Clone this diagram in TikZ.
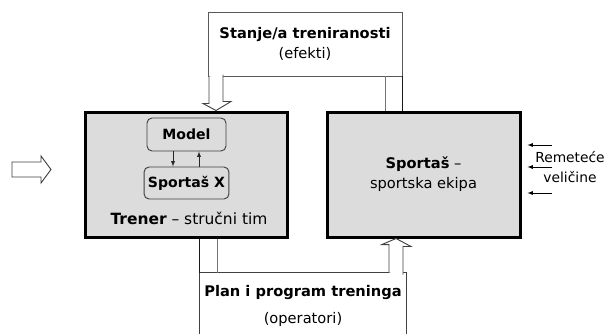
\documentclass[tikz,border=0pt]{standalone}
\usepackage{fontspec}
\setmainfont{DejaVu Sans}
\usepackage{tikz}
\usetikzlibrary{arrows}

\definecolor{sivo}{RGB}{220,220,220}

\begin{document}
\begin{tikzpicture}[x=0.3mm,y=-0.3mm,line width=0.8pt,
		every node/.style={font=\fontsize{12.5}{17}\selectfont},
		okvir/.style={rectangle,draw=black!65,fill=white,align=center},
		blok/.style={rectangle,draw=black,line width=0.9mm,fill=sivo,align=center,minimum height=37.5mm},
		mali/.style={rectangle,rounded corners=1.5mm,draw=black!75,fill=sivo,minimum width=23.7mm,font=\fontsize{12}{14}\selectfont\bfseries},
		strelica/.style={draw=black!75,fill=white,line join=miter}]
	\useasboundingbox (0,0) rectangle (607,334);
	\node (stanje)    at (  305,   44) [okvir,minimum width=58.2mm,minimum height=19.2mm] {\textbf{Stanje/a treniranosti}\\(efekti)};
	\node (trener)    at (186.5,174.5) [blok,minimum width=60.3mm] {};
	\node (sportas)   at (423.5,174.5) [blok,minimum width=57.9mm] {\textbf{Sportaš} --\\sportska ekipa};
	\node (model)     at (186.5,134.5) [mali,minimum height=9.9mm] {Model};
	\node (sportasx)  at (186.5,  183) [mali,minimum height=9.6mm] {Sportaš X};
	\node (trenertxt) at (  189,  218) [font=\fontsize{13.2}{17}\selectfont] {\textbf{Trener} -- stručni tim};
	\node (plan)      at (  303,  306) [align=center,minimum width=61.2mm,minimum height=19.8mm] {\textbf{Plan i program treninga}\\[6.8pt](operatori)};
	\node (remet)     at (  570,  167) [align=center,font=\fontsize{11.8}{17}\selectfont] {Remeteće\\veličine};
	\coordinate (ulaz) at ( 12,169.5);
	\coordinate (g1)   at (216,0);
	\coordinate (g2)   at (385,0);
	\coordinate (g3)   at (217,0);
	\coordinate (d1)   at (396,0);
	\draw [black!75] (plan.south west) |- (plan.north east) -- (plan.south east);
	\draw [black!55] (g2 |- sportas.north) -- (g2 |- stanje.south)
	                 (g3 |- trener.south) -- (g3 |- plan.north);
	\draw [black!90] (sportas.north -| stanje.east) -- (stanje.south east)
	                 (trener.south -| plan.west) -- (plan.north west);
	\draw [strelica] (g1 |- stanje.south) ++(-7,0) -- ++(0,27) -- ++(-6,0) -- (g1 |- trener.north)
	                 -- ++(15,-9) -- ++(-8,0) -- ++(0,-27);
	\draw [strelica] (d1 |- plan.north) ++(-7,0) -- ++(0,-28) -- ++(-7,0) -- (d1 |- sportas.south)
	                 -- ++(15,8) -- ++(-8,0) -- ++(0,28);
	\draw [strelica] (ulaz) ++(0,-7.5) -- ++(29,0) -- ++(0,-6) -- ++(10,13.5) -- ++(-10,13.5)
	                 -- ++(0,-6) -- ++(-29,0) -- cycle;
	\draw [-latex,black!85,line width=0.6pt] ([xshift=-4.05mm]model.south) -- ([xshift=-4.05mm]sportasx.north);
	\draw [-latex,black!85,line width=0.6pt] ([xshift=3.75mm]sportasx.north) -- ([xshift=3.75mm]model.south);
	\foreach \y [count=\i] in {145,167,193} {
		\coordinate (r\i) at (552,\y);
		\draw [-latex,line width=0.6pt,shorten >=1.8mm] (r\i) -- (r\i -| sportas.east);
	}
\end{tikzpicture}
\end{document}
